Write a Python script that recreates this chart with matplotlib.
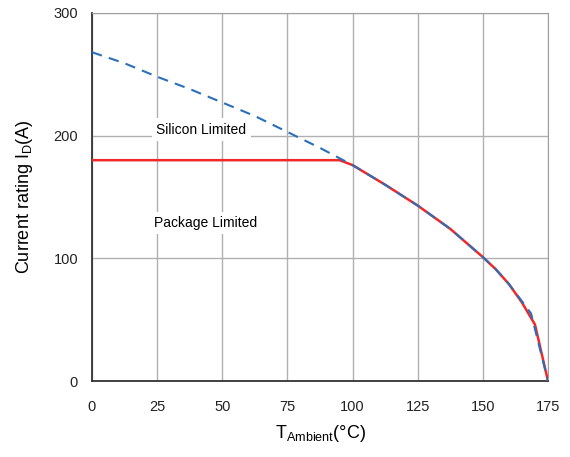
import numpy as np
import matplotlib.pyplot as plt

plt.rcParams['font.family'] = ['Liberation Sans', 'DejaVu Sans']

# silicon limited curve (blue dashed)
t_si = [0, 12.5, 25, 37.5, 50, 62.5, 75, 87.5, 100, 112.5, 125, 137.5,
        150, 155, 160, 165, 168.5, 175]
i_si = [268, 259, 248, 238, 227, 216, 203, 190, 176, 160, 143, 124,
        101, 91, 79, 65, 55, 0]

# package limited curve (red)
t_pk = [0, 95, 100, 112.5, 125, 137.5, 150, 155, 160, 165, 170, 175]
i_pk = [180, 180, 176, 160, 143, 124, 101, 91, 79, 64, 46, 0]

xticks = [0, 25, 50, 75, 100, 125, 150, 175]
yticks = [0, 100, 200, 300]

fig = plt.figure(figsize=(5.7, 4.57), dpi=100)
ax = fig.add_axes([0.1614, 0.1663, 0.80, 0.8053])

ax.plot(t_pk, i_pk, '-', color='#f02828', linewidth=1.8, zorder=3)
ax.plot(t_si, i_si, '--', color='#2a6fb8', linewidth=1.5, dashes=(5, 3.5), zorder=4)

ax.set_xlim(0, 175)
ax.set_ylim(0, 300)
ax.set_xticks(xticks)
ax.set_yticks(yticks)
ax.grid(True, color='#b0b0b0', linewidth=1.0)
ax.set_axisbelow(True)
ax.tick_params(length=0, labelsize=10.5, colors='#222222')
ax.tick_params(axis='x', pad=14)
ax.tick_params(axis='y', pad=10)

ax.spines['left'].set_color('#333333')
ax.spines['bottom'].set_color('#333333')
ax.spines['left'].set_linewidth(1.3)
ax.spines['bottom'].set_linewidth(1.3)
ax.spines['top'].set_color('#a0a0a0')
ax.spines['right'].set_color('#a0a0a0')

ax.text(42, 205, 'Silicon Limited', fontsize=10, ha='center', va='center',
        bbox=dict(facecolor='white', edgecolor='none', pad=3), zorder=5)
ax.text(43.7, 129, 'Package Limited', fontsize=10, ha='center', va='center',
        bbox=dict(facecolor='white', edgecolor='none', pad=3), zorder=5)

ax.set_xlabel(r'T$_{\mathregular{Ambient}}$(°C)', fontsize=13, labelpad=6)
ax.set_ylabel(r'Current rating I$_{\mathregular{D}}$(A)', fontsize=13, labelpad=13)

fig.savefig('out.png', dpi=100)
